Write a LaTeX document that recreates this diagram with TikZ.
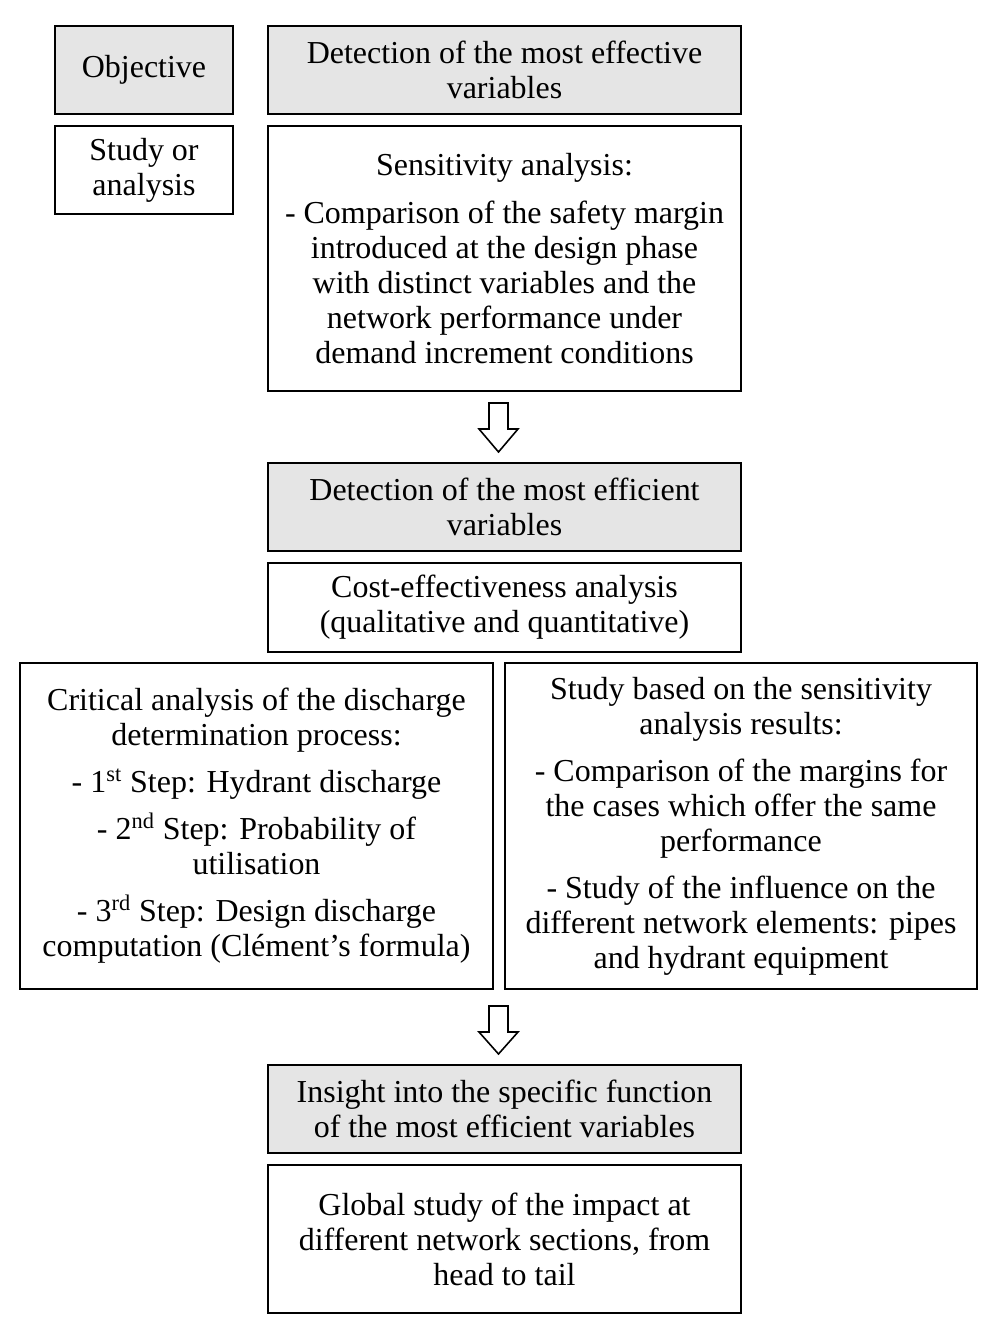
\documentclass[tikz,border=0pt]{standalone}
\usepackage{fontspec}
\setmainfont{Liberation Serif}
\tikzset{
  box/.style={draw, line width=1.3pt, align=center, inner sep=0pt, font=\fontsize{18.2}{19.9}\selectfont},
  headbox/.style={box, fill=black!10},
  blockarr/.style={draw, line width=0.9pt, fill=white, line join=miter},
}
\begin{document}
\begin{tikzpicture}[x=0.02cm, y=-0.02cm]
\useasboundingbox (0,0) rectangle (995,1335);
% legend
\node[headbox, minimum width=3.56cm, minimum height=1.76cm] (obj) at (144,70) {Objective};
\node[box, minimum width=3.56cm, minimum height=1.76cm] (study) at (144,170) {Study or\\analysis};
% first stage
\node[headbox, minimum width=9.46cm, minimum height=1.76cm] (effect) at (504.5,70) {Detection of the most effective\\variables};
\node[box, minimum width=9.46cm, minimum height=5.3cm] (sens) at (504.5,258.5) {Sensitivity analysis:\\[0.26cm]
- Comparison of the safety margin\\introduced at the design phase\\with distinct variables and the\\network performance under\\demand increment conditions};
% second stage
\node[headbox, minimum width=9.46cm, minimum height=1.76cm] (effic) at (504.5,507) {Detection of the most efficient\\variables};
\node[box, minimum width=9.46cm, minimum height=1.78cm] (cost) at (504.5,607.5) {Cost-effectiveness analysis\\(qualitative and quantitative)};
\node[box, minimum width=9.46cm, minimum height=6.52cm] (crit) at (256.5,826) {Critical analysis of the discharge\\determination process:\\[0.24cm]
- 1\textsuperscript{st} Step: Hydrant discharge\\[0.24cm]
- 2\textsuperscript{nd} Step: Probability of\\utilisation\\[0.24cm]
- 3\textsuperscript{rd} Step: Design discharge\\computation (Clément’s formula)};
\node[box, minimum width=9.44cm, minimum height=6.52cm] (res) at (741,826) {Study based on the sensitivity\\analysis results:\\[0.24cm]
- Comparison of the margins for\\the cases which offer the same\\performance\\[0.24cm]
- Study of the influence on the\\different network elements: pipes\\and hydrant equipment};
% third stage
\node[headbox, minimum width=9.46cm, minimum height=1.76cm] (insight) at (504.5,1109) {Insight into the specific function\\of the most efficient variables};
\node[box, minimum width=9.46cm, minimum height=2.96cm] (global) at (504.5,1239) {Global study of the impact at\\different network sections, from\\head to tail};
% arrows
\coordinate (a1) at (498.5,403);
\coordinate (a2) at (498.5,1006);
\draw[blockarr] (a1) ++(-9.5,0) -- ++(19,0) -- ++(0,26) -- ++(10,0) -- ++(-19.5,23) -- ++(-19.5,-23) -- ++(10,0) -- cycle;
\draw[blockarr] (a2) ++(-9.5,0) -- ++(19,0) -- ++(0,26) -- ++(10,0) -- ++(-19.5,22) -- ++(-19.5,-22) -- ++(10,0) -- cycle;
\end{tikzpicture}
\end{document}
